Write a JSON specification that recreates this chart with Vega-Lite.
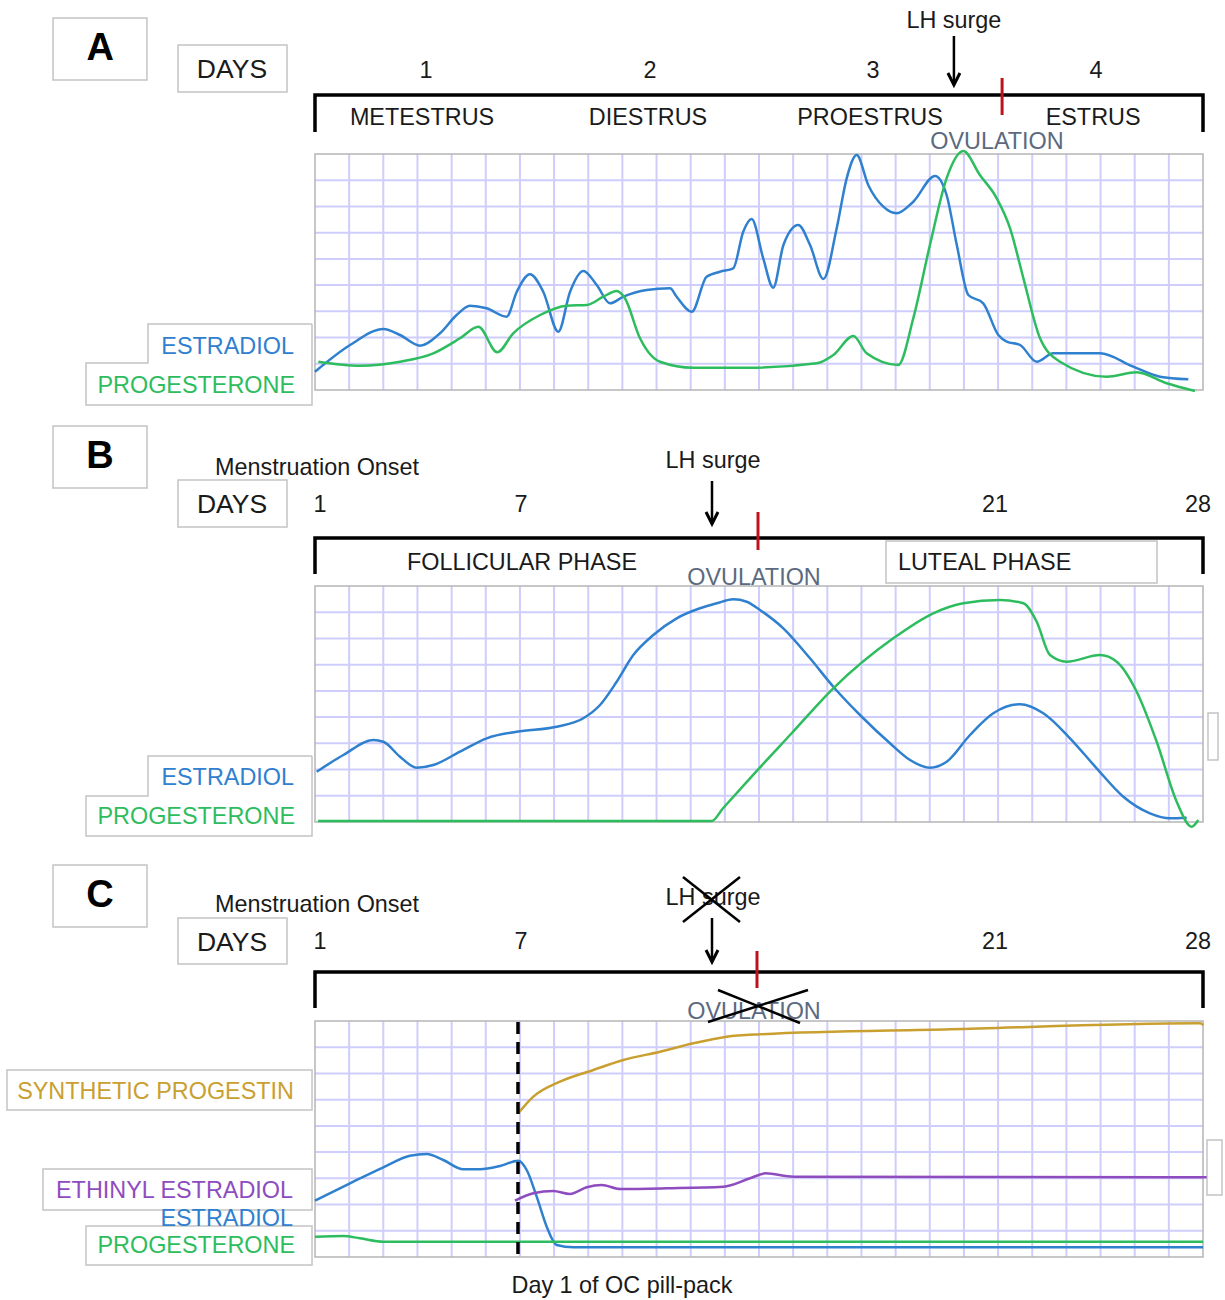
{
  "$schema": "https://vega.github.io/schema/vega-lite/v6.json",
  "padding": 0,
  "spacing": 0,
  "bounds": "flush",
  "background": "white",
  "config": {"view": {"stroke": null}, "text": {"font": "Liberation Sans"}},
  "resolve": {"scale": {"x": "independent", "y": "independent"}},
  "datasets": {
    "A_frame": [{"day": 0.5, "day2": 4.5, "level": 0, "level2": 236}],
    "BC_frame": [{"day": 1, "day2": 28, "level": 0, "level2": 236}],
    "A_hgrid": [{"day": 0.5, "day2": 4.5, "level": 26.22}, {"day": 0.5, "day2": 4.5, "level": 52.44}, {"day": 0.5, "day2": 4.5, "level": 78.67}, {"day": 0.5, "day2": 4.5, "level": 104.89}, {"day": 0.5, "day2": 4.5, "level": 131.11}, {"day": 0.5, "day2": 4.5, "level": 157.33}, {"day": 0.5, "day2": 4.5, "level": 183.56}, {"day": 0.5, "day2": 4.5, "level": 209.78}],
    "BC_hgrid": [{"day": 1, "day2": 28, "level": 26.22}, {"day": 1, "day2": 28, "level": 52.44}, {"day": 1, "day2": 28, "level": 78.67}, {"day": 1, "day2": 28, "level": 104.89}, {"day": 1, "day2": 28, "level": 131.11}, {"day": 1, "day2": 28, "level": 157.33}, {"day": 1, "day2": 28, "level": 183.56}, {"day": 1, "day2": 28, "level": 209.78}],
    "A_vgrid": [{"day": 0.6538, "level": 0, "level2": 236}, {"day": 0.8077, "level": 0, "level2": 236}, {"day": 0.9615, "level": 0, "level2": 236}, {"day": 1.1154, "level": 0, "level2": 236}, {"day": 1.2692, "level": 0, "level2": 236}, {"day": 1.4231, "level": 0, "level2": 236}, {"day": 1.5769, "level": 0, "level2": 236}, {"day": 1.7308, "level": 0, "level2": 236}, {"day": 1.8846, "level": 0, "level2": 236}, {"day": 2.0385, "level": 0, "level2": 236}, {"day": 2.1923, "level": 0, "level2": 236}, {"day": 2.3462, "level": 0, "level2": 236}, {"day": 2.5, "level": 0, "level2": 236}, {"day": 2.6538, "level": 0, "level2": 236}, {"day": 2.8077, "level": 0, "level2": 236}, {"day": 2.9615, "level": 0, "level2": 236}, {"day": 3.1154, "level": 0, "level2": 236}, {"day": 3.2692, "level": 0, "level2": 236}, {"day": 3.4231, "level": 0, "level2": 236}, {"day": 3.5769, "level": 0, "level2": 236}, {"day": 3.7308, "level": 0, "level2": 236}, {"day": 3.8846, "level": 0, "level2": 236}, {"day": 4.0385, "level": 0, "level2": 236}, {"day": 4.1923, "level": 0, "level2": 236}, {"day": 4.3462, "level": 0, "level2": 236}],
    "BC_vgrid": [{"day": 2.0385, "level": 0, "level2": 236}, {"day": 3.0769, "level": 0, "level2": 236}, {"day": 4.1154, "level": 0, "level2": 236}, {"day": 5.1538, "level": 0, "level2": 236}, {"day": 6.1923, "level": 0, "level2": 236}, {"day": 7.2308, "level": 0, "level2": 236}, {"day": 8.2692, "level": 0, "level2": 236}, {"day": 9.3077, "level": 0, "level2": 236}, {"day": 10.3462, "level": 0, "level2": 236}, {"day": 11.3846, "level": 0, "level2": 236}, {"day": 12.4231, "level": 0, "level2": 236}, {"day": 13.4615, "level": 0, "level2": 236}, {"day": 14.5, "level": 0, "level2": 236}, {"day": 15.5385, "level": 0, "level2": 236}, {"day": 16.5769, "level": 0, "level2": 236}, {"day": 17.6154, "level": 0, "level2": 236}, {"day": 18.6538, "level": 0, "level2": 236}, {"day": 19.6923, "level": 0, "level2": 236}, {"day": 20.7308, "level": 0, "level2": 236}, {"day": 21.7692, "level": 0, "level2": 236}, {"day": 22.8077, "level": 0, "level2": 236}, {"day": 23.8462, "level": 0, "level2": 236}, {"day": 24.8846, "level": 0, "level2": 236}, {"day": 25.9231, "level": 0, "level2": 236}, {"day": 26.9615, "level": 0, "level2": 236}],
    "A_curves": [
      {"hormone": "ESTRADIOL", "day": 0.5, "level": 18.3}, {"hormone": "ESTRADIOL", "day": 0.658, "level": 45}, {"hormone": "ESTRADIOL", "day": 0.808, "level": 61}, {"hormone": "ESTRADIOL", "day": 0.883, "level": 55}, {"hormone": "ESTRADIOL", "day": 0.973, "level": 44.3}, {"hormone": "ESTRADIOL", "day": 1.063, "level": 56.7}, {"hormone": "ESTRADIOL", "day": 1.138, "level": 75}, {"hormone": "ESTRADIOL", "day": 1.198, "level": 84.3}, {"hormone": "ESTRADIOL", "day": 1.273, "level": 81.7}, {"hormone": "ESTRADIOL", "day": 1.363, "level": 73.3}, {"hormone": "ESTRADIOL", "day": 1.409, "level": 98.3}, {"hormone": "ESTRADIOL", "day": 1.468, "level": 115.7}, {"hormone": "ESTRADIOL", "day": 1.528, "level": 98.3}, {"hormone": "ESTRADIOL", "day": 1.596, "level": 58.3}, {"hormone": "ESTRADIOL", "day": 1.649, "level": 98.3}, {"hormone": "ESTRADIOL", "day": 1.709, "level": 119}, {"hormone": "ESTRADIOL", "day": 1.769, "level": 105}, {"hormone": "ESTRADIOL", "day": 1.829, "level": 86.7}, {"hormone": "ESTRADIOL", "day": 1.889, "level": 93.3}, {"hormone": "ESTRADIOL", "day": 1.994, "level": 100}, {"hormone": "ESTRADIOL", "day": 2.099, "level": 101.7}, {"hormone": "ESTRADIOL", "day": 2.129, "level": 93.3}, {"hormone": "ESTRADIOL", "day": 2.197, "level": 78.3}, {"hormone": "ESTRADIOL", "day": 2.264, "level": 113.3}, {"hormone": "ESTRADIOL", "day": 2.324, "level": 118.3}, {"hormone": "ESTRADIOL", "day": 2.384, "level": 121.7}, {"hormone": "ESTRADIOL", "day": 2.429, "level": 158.3}, {"hormone": "ESTRADIOL", "day": 2.467, "level": 171}, {"hormone": "ESTRADIOL", "day": 2.519, "level": 131.7}, {"hormone": "ESTRADIOL", "day": 2.564, "level": 102.3}, {"hormone": "ESTRADIOL", "day": 2.61, "level": 145}, {"hormone": "ESTRADIOL", "day": 2.677, "level": 165}, {"hormone": "ESTRADIOL", "day": 2.73, "level": 145}, {"hormone": "ESTRADIOL", "day": 2.79, "level": 111}, {"hormone": "ESTRADIOL", "day": 2.85, "level": 161.7}, {"hormone": "ESTRADIOL", "day": 2.895, "level": 211.7}, {"hormone": "ESTRADIOL", "day": 2.94, "level": 235}, {"hormone": "ESTRADIOL", "day": 2.992, "level": 205}, {"hormone": "ESTRADIOL", "day": 3.06, "level": 183.3}, {"hormone": "ESTRADIOL", "day": 3.12, "level": 176.7}, {"hormone": "ESTRADIOL", "day": 3.195, "level": 188.3}, {"hormone": "ESTRADIOL", "day": 3.293, "level": 214}, {"hormone": "ESTRADIOL", "day": 3.345, "level": 195}, {"hormone": "ESTRADIOL", "day": 3.391, "level": 145}, {"hormone": "ESTRADIOL", "day": 3.443, "level": 95}, {"hormone": "ESTRADIOL", "day": 3.51, "level": 86.7}, {"hormone": "ESTRADIOL", "day": 3.578, "level": 55}, {"hormone": "ESTRADIOL", "day": 3.616, "level": 48.3}, {"hormone": "ESTRADIOL", "day": 3.676, "level": 45}, {"hormone": "ESTRADIOL", "day": 3.751, "level": 28.3}, {"hormone": "ESTRADIOL", "day": 3.826, "level": 36.7}, {"hormone": "ESTRADIOL", "day": 4.036, "level": 36.7}, {"hormone": "ESTRADIOL", "day": 4.186, "level": 23.3}, {"hormone": "ESTRADIOL", "day": 4.306, "level": 13.3}, {"hormone": "ESTRADIOL", "day": 4.434, "level": 10.7},
      {"hormone": "PROGESTERONE", "day": 0.515, "level": 28.3}, {"hormone": "PROGESTERONE", "day": 0.703, "level": 24.3}, {"hormone": "PROGESTERONE", "day": 0.883, "level": 28.3}, {"hormone": "PROGESTERONE", "day": 1.033, "level": 36.7}, {"hormone": "PROGESTERONE", "day": 1.153, "level": 51.7}, {"hormone": "PROGESTERONE", "day": 1.236, "level": 63.3}, {"hormone": "PROGESTERONE", "day": 1.321, "level": 37.7}, {"hormone": "PROGESTERONE", "day": 1.393, "level": 56.7}, {"hormone": "PROGESTERONE", "day": 1.514, "level": 75}, {"hormone": "PROGESTERONE", "day": 1.634, "level": 84.3}, {"hormone": "PROGESTERONE", "day": 1.724, "level": 85}, {"hormone": "PROGESTERONE", "day": 1.799, "level": 93.3}, {"hormone": "PROGESTERONE", "day": 1.859, "level": 99}, {"hormone": "PROGESTERONE", "day": 1.896, "level": 91.7}, {"hormone": "PROGESTERONE", "day": 1.964, "level": 51.7}, {"hormone": "PROGESTERONE", "day": 2.054, "level": 28.3}, {"hormone": "PROGESTERONE", "day": 2.204, "level": 22.3}, {"hormone": "PROGESTERONE", "day": 2.459, "level": 22.3}, {"hormone": "PROGESTERONE", "day": 2.76, "level": 26.7}, {"hormone": "PROGESTERONE", "day": 2.835, "level": 35}, {"hormone": "PROGESTERONE", "day": 2.925, "level": 54}, {"hormone": "PROGESTERONE", "day": 2.985, "level": 36.7}, {"hormone": "PROGESTERONE", "day": 3.127, "level": 25}, {"hormone": "PROGESTERONE", "day": 3.195, "level": 71.7}, {"hormone": "PROGESTERONE", "day": 3.27, "level": 145}, {"hormone": "PROGESTERONE", "day": 3.345, "level": 211.7}, {"hormone": "PROGESTERONE", "day": 3.42, "level": 239}, {"hormone": "PROGESTERONE", "day": 3.495, "level": 215}, {"hormone": "PROGESTERONE", "day": 3.571, "level": 191.7}, {"hormone": "PROGESTERONE", "day": 3.631, "level": 161.7}, {"hormone": "PROGESTERONE", "day": 3.691, "level": 111.7}, {"hormone": "PROGESTERONE", "day": 3.766, "level": 51.7}, {"hormone": "PROGESTERONE", "day": 3.856, "level": 28.3}, {"hormone": "PROGESTERONE", "day": 4.066, "level": 13.3}, {"hormone": "PROGESTERONE", "day": 4.201, "level": 17.7}, {"hormone": "PROGESTERONE", "day": 4.336, "level": 6.7}, {"hormone": "PROGESTERONE", "day": 4.464, "level": -1}
    ],
    "B_curves": [
      {"hormone": "ESTRADIOL", "day": 1.052, "level": 50.3}, {"hormone": "ESTRADIOL", "day": 1.861, "level": 67}, {"hormone": "ESTRADIOL", "day": 2.773, "level": 82}, {"hormone": "ESTRADIOL", "day": 3.077, "level": 80.3}, {"hormone": "ESTRADIOL", "day": 3.584, "level": 65.3}, {"hormone": "ESTRADIOL", "day": 4.092, "level": 54.3}, {"hormone": "ESTRADIOL", "day": 4.597, "level": 57}, {"hormone": "ESTRADIOL", "day": 5.409, "level": 70.3}, {"hormone": "ESTRADIOL", "day": 6.221, "level": 83.7}, {"hormone": "ESTRADIOL", "day": 7.133, "level": 90.3}, {"hormone": "ESTRADIOL", "day": 8.349, "level": 95.3}, {"hormone": "ESTRADIOL", "day": 9.158, "level": 103.7}, {"hormone": "ESTRADIOL", "day": 9.666, "level": 117}, {"hormone": "ESTRADIOL", "day": 10.173, "level": 140.3}, {"hormone": "ESTRADIOL", "day": 10.678, "level": 167}, {"hormone": "ESTRADIOL", "day": 11.286, "level": 187}, {"hormone": "ESTRADIOL", "day": 11.998, "level": 203.7}, {"hormone": "ESTRADIOL", "day": 12.706, "level": 213.7}, {"hormone": "ESTRADIOL", "day": 13.214, "level": 218.7}, {"hormone": "ESTRADIOL", "day": 13.719, "level": 222.7}, {"hormone": "ESTRADIOL", "day": 14.126, "level": 220.3}, {"hormone": "ESTRADIOL", "day": 14.53, "level": 212}, {"hormone": "ESTRADIOL", "day": 15.239, "level": 193.7}, {"hormone": "ESTRADIOL", "day": 16.051, "level": 163.7}, {"hormone": "ESTRADIOL", "day": 16.759, "level": 135.3}, {"hormone": "ESTRADIOL", "day": 17.571, "level": 107}, {"hormone": "ESTRADIOL", "day": 18.483, "level": 78.7}, {"hormone": "ESTRADIOL", "day": 19.091, "level": 62}, {"hormone": "ESTRADIOL", "day": 19.699, "level": 54.3}, {"hormone": "ESTRADIOL", "day": 20.207, "level": 60.3}, {"hormone": "ESTRADIOL", "day": 20.915, "level": 87}, {"hormone": "ESTRADIOL", "day": 21.624, "level": 108.7}, {"hormone": "ESTRADIOL", "day": 22.436, "level": 117.7}, {"hormone": "ESTRADIOL", "day": 23.145, "level": 108.7}, {"hormone": "ESTRADIOL", "day": 23.956, "level": 83.7}, {"hormone": "ESTRADIOL", "day": 24.767, "level": 53.7}, {"hormone": "ESTRADIOL", "day": 25.577, "level": 25.3}, {"hormone": "ESTRADIOL", "day": 26.388, "level": 8.7}, {"hormone": "ESTRADIOL", "day": 26.996, "level": 3.7}, {"hormone": "ESTRADIOL", "day": 27.504, "level": 4.3},
      {"hormone": "PROGESTERONE", "day": 1.091, "level": 1}, {"hormone": "PROGESTERONE", "day": 13.062, "level": 1}, {"hormone": "PROGESTERONE", "day": 13.4, "level": 13.5}, {"hormone": "PROGESTERONE", "day": 14.226, "level": 43.7}, {"hormone": "PROGESTERONE", "day": 15.5, "level": 89}, {"hormone": "PROGESTERONE", "day": 16.759, "level": 133.7}, {"hormone": "PROGESTERONE", "day": 18.583, "level": 183.7}, {"hormone": "PROGESTERONE", "day": 19.8, "level": 208.7}, {"hormone": "PROGESTERONE", "day": 20.712, "level": 218.7}, {"hormone": "PROGESTERONE", "day": 21.828, "level": 222}, {"hormone": "PROGESTERONE", "day": 22.536, "level": 218.7}, {"hormone": "PROGESTERONE", "day": 22.943, "level": 200.3}, {"hormone": "PROGESTERONE", "day": 23.348, "level": 167}, {"hormone": "PROGESTERONE", "day": 23.856, "level": 160.3}, {"hormone": "PROGESTERONE", "day": 24.868, "level": 167}, {"hormone": "PROGESTERONE", "day": 25.376, "level": 160.3}, {"hormone": "PROGESTERONE", "day": 25.984, "level": 130.3}, {"hormone": "PROGESTERONE", "day": 26.592, "level": 80.3}, {"hormone": "PROGESTERONE", "day": 27.2, "level": 20.3}, {"hormone": "PROGESTERONE", "day": 27.656, "level": -4.7}, {"hormone": "PROGESTERONE", "day": 27.857, "level": 2}
    ],
    "C_curves": [
      {"hormone": "ESTRADIOL", "day": 1.0, "level": 56.3}, {"hormone": "ESTRADIOL", "day": 2.064, "level": 73.7}, {"hormone": "ESTRADIOL", "day": 3.077, "level": 89.7}, {"hormone": "ESTRADIOL", "day": 3.889, "level": 101.3}, {"hormone": "ESTRADIOL", "day": 4.396, "level": 103}, {"hormone": "ESTRADIOL", "day": 4.901, "level": 97}, {"hormone": "ESTRADIOL", "day": 5.509, "level": 87.7}, {"hormone": "ESTRADIOL", "day": 6.017, "level": 87.7}, {"hormone": "ESTRADIOL", "day": 6.625, "level": 91}, {"hormone": "ESTRADIOL", "day": 7.182, "level": 96.3}, {"hormone": "ESTRADIOL", "day": 7.437, "level": 87}, {"hormone": "ESTRADIOL", "day": 7.741, "level": 60.3}, {"hormone": "ESTRADIOL", "day": 8.045, "level": 30.3}, {"hormone": "ESTRADIOL", "day": 8.349, "level": 12}, {"hormone": "ESTRADIOL", "day": 8.854, "level": 9.7}, {"hormone": "ESTRADIOL", "day": 14.53, "level": 9.7}, {"hormone": "ESTRADIOL", "day": 28.0, "level": 9.7},
      {"hormone": "PROGESTERONE", "day": 1.0, "level": 20.3}, {"hormone": "PROGESTERONE", "day": 1.861, "level": 21}, {"hormone": "PROGESTERONE", "day": 2.368, "level": 18.7}, {"hormone": "PROGESTERONE", "day": 3.077, "level": 15.3}, {"hormone": "PROGESTERONE", "day": 28.0, "level": 15.3},
      {"hormone": "SYNTHETIC PROGESTIN", "day": 7.182, "level": 143.7}, {"hormone": "SYNTHETIC PROGESTIN", "day": 7.638, "level": 160.3}, {"hormone": "SYNTHETIC PROGESTIN", "day": 8.449, "level": 175.3}, {"hormone": "SYNTHETIC PROGESTIN", "day": 9.462, "level": 187}, {"hormone": "SYNTHETIC PROGESTIN", "day": 10.374, "level": 197}, {"hormone": "SYNTHETIC PROGESTIN", "day": 11.49, "level": 205.3}, {"hormone": "SYNTHETIC PROGESTIN", "day": 12.502, "level": 213.7}, {"hormone": "SYNTHETIC PROGESTIN", "day": 13.518, "level": 220.3}, {"hormone": "SYNTHETIC PROGESTIN", "day": 14.53, "level": 222.7}, {"hormone": "SYNTHETIC PROGESTIN", "day": 20.307, "level": 227.7}, {"hormone": "SYNTHETIC PROGESTIN", "day": 27.909, "level": 233.7}, {"hormone": "SYNTHETIC PROGESTIN", "day": 28.01, "level": 232},
      {"hormone": "ETHINYL ESTRADIOL", "day": 7.081, "level": 56.3}, {"hormone": "ETHINYL ESTRADIOL", "day": 7.638, "level": 63.7}, {"hormone": "ETHINYL ESTRADIOL", "day": 8.246, "level": 66}, {"hormone": "ETHINYL ESTRADIOL", "day": 8.753, "level": 63}, {"hormone": "ETHINYL ESTRADIOL", "day": 9.261, "level": 69.7}, {"hormone": "ETHINYL ESTRADIOL", "day": 9.717, "level": 72}, {"hormone": "ETHINYL ESTRADIOL", "day": 10.274, "level": 68}, {"hormone": "ETHINYL ESTRADIOL", "day": 11.693, "level": 68.7}, {"hormone": "ETHINYL ESTRADIOL", "day": 13.415, "level": 70.3}, {"hormone": "ETHINYL ESTRADIOL", "day": 14.226, "level": 78.7}, {"hormone": "ETHINYL ESTRADIOL", "day": 14.7, "level": 83.7}, {"hormone": "ETHINYL ESTRADIOL", "day": 15.543, "level": 80.3}, {"hormone": "ETHINYL ESTRADIOL", "day": 28.112, "level": 79.7}
    ],
    "A_boxes": [
      {"box": "letter", "day": -0.68, "day2": -0.257, "level": 372, "level2": 310},
      {"box": "days", "day": -0.117, "day2": 0.374, "level": 345, "level2": 298}
    ],
    "B_boxes": [
      {"box": "letter", "day": -6.966, "day2": -4.108, "level": 396, "level2": 334},
      {"box": "days", "day": -3.166, "day2": 0.149, "level": 342, "level2": 295},
      {"box": "luteal", "day": 18.361, "day2": 26.601, "level": 281, "level2": 239},
      {"box": "side", "day": 28.152, "day2": 28.456, "level": 109, "level2": 62}
    ],
    "C_boxes": [
      {"box": "letter", "day": -6.966, "day2": -4.108, "level": 392, "level2": 330},
      {"box": "days", "day": -3.166, "day2": 0.149, "level": 339, "level2": 293},
      {"box": "synthetic", "day": -8.365, "day2": 0.909, "level": 187, "level2": 147},
      {"box": "ethinyl", "day": -7.27, "day2": 0.909, "level": 88, "level2": 47},
      {"box": "progesterone", "day": -5.963, "day2": 0.909, "level": 31, "level2": -8},
      {"box": "side", "day": 28.122, "day2": 28.578, "level": 117, "level2": 62}
    ],
    "A_paths": [
      {"path": "bracket", "ord": 1, "day": 0.5, "level": 258}, {"path": "bracket", "ord": 2, "day": 0.5, "level": 295}, {"path": "bracket", "ord": 3, "day": 4.5, "level": 295}, {"path": "bracket", "ord": 4, "day": 4.5, "level": 258},
      {"path": "legend", "ord": 1, "day": 0.4865, "level": 66}, {"path": "legend", "ord": 2, "day": -0.2523, "level": 66}, {"path": "legend", "ord": 3, "day": -0.2523, "level": 27}, {"path": "legend", "ord": 4, "day": -0.5315, "level": 27}, {"path": "legend", "ord": 5, "day": -0.5315, "level": -15}, {"path": "legend", "ord": 6, "day": 0.4865, "level": -15}, {"path": "legend", "ord": 7, "day": 0.4865, "level": 66}
    ],
    "B_paths": [
      {"path": "bracket", "ord": 1, "day": 1, "level": 248}, {"path": "bracket", "ord": 2, "day": 1, "level": 284}, {"path": "bracket", "ord": 3, "day": 28, "level": 284}, {"path": "bracket", "ord": 4, "day": 28, "level": 248},
      {"path": "legend", "ord": 1, "day": 0.909, "level": 66}, {"path": "legend", "ord": 2, "day": -4.078, "level": 66}, {"path": "legend", "ord": 3, "day": -4.078, "level": 26}, {"path": "legend", "ord": 4, "day": -5.963, "level": 26}, {"path": "legend", "ord": 5, "day": -5.963, "level": -14}, {"path": "legend", "ord": 6, "day": 0.909, "level": -14}, {"path": "legend", "ord": 7, "day": 0.909, "level": 66}
    ],
    "C_paths": [
      {"path": "bracket", "ord": 1, "day": 1, "level": 249}, {"path": "bracket", "ord": 2, "day": 1, "level": 285}, {"path": "bracket", "ord": 3, "day": 28, "level": 285}, {"path": "bracket", "ord": 4, "day": 28, "level": 249},
      {"path": "cross1", "ord": 1, "day": 12.189, "level": 380}, {"path": "cross1", "ord": 2, "day": 13.922, "level": 335},
      {"path": "cross2", "ord": 1, "day": 13.922, "level": 380}, {"path": "cross2", "ord": 2, "day": 12.189, "level": 335},
      {"path": "cross3", "ord": 1, "day": 12.949, "level": 235}, {"path": "cross3", "ord": 2, "day": 15.99, "level": 267},
      {"path": "cross4", "ord": 1, "day": 13.253, "level": 267}, {"path": "cross4", "ord": 2, "day": 15.747, "level": 234}
    ],
    "A_marks": [
      {"kind": "ovtick", "day": 3.595, "level": 312, "level2": 275},
      {"kind": "arrow", "day": 3.378, "level": 354, "level2": 305}
    ],
    "B_marks": [
      {"kind": "ovtick", "day": 14.47, "level": 310, "level2": 272},
      {"kind": "arrow", "day": 13.071, "level": 341, "level2": 298}
    ],
    "C_marks": [
      {"kind": "ovtick", "day": 14.439, "level": 306, "level2": 269},
      {"kind": "arrow", "day": 13.071, "level": 339, "level2": 295},
      {"kind": "dashed", "day": 7.172, "level": 235, "level2": 0}
    ],
    "A_text": [
      {"role": "letter", "text": "A", "day": -0.468, "level": 341},
      {"role": "days", "text": "DAYS", "day": 0.126, "level": 320},
      {"role": "normal", "text": "1", "day": 1.0, "level": 319},
      {"role": "normal", "text": "2", "day": 2.009, "level": 319},
      {"role": "normal", "text": "3", "day": 3.014, "level": 319},
      {"role": "normal", "text": "4", "day": 4.018, "level": 319},
      {"role": "normal", "text": "LH surge", "day": 3.378, "level": 369},
      {"role": "normal", "text": "METESTRUS", "day": 0.982, "level": 272},
      {"role": "normal", "text": "DIESTRUS", "day": 2.0, "level": 272},
      {"role": "normal", "text": "PROESTRUS", "day": 3.0, "level": 272},
      {"role": "normal", "text": "ESTRUS", "day": 4.005, "level": 272},
      {"role": "ovulation", "text": "OVULATION", "day": 3.572, "level": 248},
      {"role": "legend", "text": "ESTRADIOL", "day": 0.405, "level": 43},
      {"role": "legend", "text": "PROGESTERONE", "day": 0.41, "level": 4}
    ],
    "B_text": [
      {"role": "letter", "text": "B", "day": -5.537, "level": 365},
      {"role": "normal", "text": "Menstruation Onset", "day": 1.061, "level": 354},
      {"role": "days", "text": "DAYS", "day": -1.524, "level": 317},
      {"role": "normal", "text": "1", "day": 1.152, "level": 317},
      {"role": "normal", "text": "7", "day": 7.263, "level": 317},
      {"role": "normal", "text": "21", "day": 21.675, "level": 317},
      {"role": "normal", "text": "28", "day": 27.848, "level": 317},
      {"role": "normal", "text": "LH surge", "day": 13.101, "level": 361},
      {"role": "normal", "text": "FOLLICULAR PHASE", "day": 7.294, "level": 259},
      {"role": "normal", "text": "LUTEAL PHASE", "day": 21.36, "level": 259},
      {"role": "ovulation", "text": "OVULATION", "day": 14.348, "level": 244},
      {"role": "legend", "text": "ESTRADIOL", "day": 0.361, "level": 44},
      {"role": "legend", "text": "PROGESTERONE", "day": 0.392, "level": 5}
    ],
    "C_text": [
      {"role": "letter", "text": "C", "day": -5.537, "level": 361},
      {"role": "normal", "text": "Menstruation Onset", "day": 1.061, "level": 352},
      {"role": "days", "text": "DAYS", "day": -1.524, "level": 314},
      {"role": "normal", "text": "1", "day": 1.152, "level": 315},
      {"role": "normal", "text": "7", "day": 7.263, "level": 315},
      {"role": "normal", "text": "21", "day": 21.675, "level": 315},
      {"role": "normal", "text": "28", "day": 27.848, "level": 315},
      {"role": "normal", "text": "LH surge", "day": 13.101, "level": 359},
      {"role": "ovulation", "text": "OVULATION", "day": 14.348, "level": 245},
      {"role": "legend", "text": "SYNTHETIC PROGESTIN", "day": 0.361, "level": 165},
      {"role": "legend", "text": "ETHINYL ESTRADIOL", "day": 0.331, "level": 66},
      {"role": "legend", "text": "ESTRADIOL", "day": 0.331, "level": 38},
      {"role": "legend", "text": "PROGESTERONE", "day": 0.392, "level": 11},
      {"role": "normal", "text": "Day 1 of OC pill-pack", "day": 10.334, "level": -29}
    ]
  },
  "vconcat": [
    {
      "width": 1225, "height": 423,
      "encoding": {
        "x": {"field": "day", "type": "quantitative", "scale": {"domain": [-0.9189, 4.5991], "nice": false, "zero": false}, "axis": null},
        "y": {"field": "level", "type": "quantitative", "scale": {"domain": [-33, 390], "nice": false, "zero": false}, "axis": null}
      },
      "layer": [
        {"data": {"name": "A_boxes"}, "mark": {"type": "rect", "fill": "white", "stroke": "#c4c4c4", "strokeWidth": 1.5}, "encoding": {"x2": {"field": "day2"}, "y2": {"field": "level2"}}},
        {"data": {"name": "A_frame"}, "mark": {"type": "rect", "fill": "white"}, "encoding": {"x2": {"field": "day2"}, "y2": {"field": "level2"}}},
        {"data": {"name": "A_vgrid"}, "mark": {"type": "rule", "stroke": "#cfcdfb", "strokeWidth": 2}, "encoding": {"y2": {"field": "level2"}}},
        {"data": {"name": "A_hgrid"}, "mark": {"type": "rule", "stroke": "#cfcdfb", "strokeWidth": 2}, "encoding": {"x2": {"field": "day2"}}},
        {"data": {"name": "A_frame"}, "mark": {"type": "rect", "filled": false, "stroke": "#b5b5b5", "strokeWidth": 1.5}, "encoding": {"x2": {"field": "day2"}, "y2": {"field": "level2"}}},
        {"data": {"name": "A_curves"}, "mark": {"type": "line", "strokeWidth": 2.5, "interpolate": "monotone"}, "encoding": {"color": {"field": "hormone", "type": "nominal", "scale": {"domain": ["ESTRADIOL", "PROGESTERONE", "SYNTHETIC PROGESTIN", "ETHINYL ESTRADIOL"], "range": ["#2f80cf", "#2dbd5e", "#c9a030", "#8e4cbf"]}, "legend": null}}},
        {"data": {"name": "A_paths"}, "transform": [{"filter": "datum.path === 'bracket'"}], "mark": {"type": "line", "stroke": "black", "strokeWidth": 3.5, "strokeJoin": "miter"}, "encoding": {"order": {"field": "ord"}, "detail": {"field": "path"}}},
        {"data": {"name": "A_paths"}, "transform": [{"filter": "datum.path === 'legend'"}], "mark": {"type": "line", "stroke": "#c4c4c4", "strokeWidth": 1.5}, "encoding": {"order": {"field": "ord"}, "detail": {"field": "path"}}},
        {"data": {"name": "A_marks"}, "transform": [{"filter": "datum.kind === 'ovtick'"}], "mark": {"type": "rule", "stroke": "#c0121c", "strokeWidth": 3}, "encoding": {"y2": {"field": "level2"}}},
        {"data": {"name": "A_marks"}, "transform": [{"filter": "datum.kind === 'arrow'"}], "mark": {"type": "rule", "stroke": "black", "strokeWidth": 2.5}, "encoding": {"y2": {"field": "level2"}}},
        {"data": {"name": "A_marks"}, "transform": [{"filter": "datum.kind === 'arrow'"}], "mark": {"type": "point", "shape": "M-0.6,-1.2L0,0L0.6,-1.2", "size": 400, "filled": false, "stroke": "black", "strokeWidth": 3, "opacity": 1, "strokeJoin": "miter"}, "encoding": {"y": {"field": "level2"}}},
        {"data": {"name": "A_text"}, "transform": [{"filter": "datum.role === 'letter'"}], "mark": {"type": "text", "fontSize": 38, "fontWeight": "bold", "fill": "black"}, "encoding": {"text": {"field": "text"}}},
        {"data": {"name": "A_text"}, "transform": [{"filter": "datum.role === 'days'"}], "mark": {"type": "text", "fontSize": 26.5, "fill": "#1a1a1a"}, "encoding": {"text": {"field": "text"}}},
        {"data": {"name": "A_text"}, "transform": [{"filter": "datum.role === 'normal'"}], "mark": {"type": "text", "fontSize": 23.4, "fill": "#1a1a1a"}, "encoding": {"text": {"field": "text"}}},
        {"data": {"name": "A_text"}, "transform": [{"filter": "datum.role === 'ovulation'"}], "mark": {"type": "text", "fontSize": 23.4, "fill": "#5b6a80"}, "encoding": {"text": {"field": "text"}}},
        {"data": {"name": "A_text"}, "transform": [{"filter": "datum.role === 'legend'"}], "mark": {"type": "text", "fontSize": 23.4, "align": "right"}, "encoding": {"text": {"field": "text"}, "color": {"field": "text", "type": "nominal", "scale": {"domain": ["ESTRADIOL", "PROGESTERONE", "SYNTHETIC PROGESTIN", "ETHINYL ESTRADIOL"], "range": ["#2f80cf", "#2dbd5e", "#c9a030", "#8e4cbf"]}, "legend": null}}}
      ]
    },
    {
      "width": 1225, "height": 437,
      "encoding": {
        "x": {"field": "day", "type": "quantitative", "scale": {"domain": [-8.5777, 28.669], "nice": false, "zero": false}, "axis": null},
        "y": {"field": "level", "type": "quantitative", "scale": {"domain": [-38, 399], "nice": false, "zero": false}, "axis": null}
      },
      "layer": [
        {"data": {"name": "B_boxes"}, "mark": {"type": "rect", "fill": "white", "stroke": "#c4c4c4", "strokeWidth": 1.5}, "encoding": {"x2": {"field": "day2"}, "y2": {"field": "level2"}}},
        {"data": {"name": "BC_frame"}, "mark": {"type": "rect", "fill": "white"}, "encoding": {"x2": {"field": "day2"}, "y2": {"field": "level2"}}},
        {"data": {"name": "BC_vgrid"}, "mark": {"type": "rule", "stroke": "#cfcdfb", "strokeWidth": 2}, "encoding": {"y2": {"field": "level2"}}},
        {"data": {"name": "BC_hgrid"}, "mark": {"type": "rule", "stroke": "#cfcdfb", "strokeWidth": 2}, "encoding": {"x2": {"field": "day2"}}},
        {"data": {"name": "BC_frame"}, "mark": {"type": "rect", "filled": false, "stroke": "#b5b5b5", "strokeWidth": 1.5}, "encoding": {"x2": {"field": "day2"}, "y2": {"field": "level2"}}},
        {"data": {"name": "B_curves"}, "mark": {"type": "line", "strokeWidth": 2.5, "interpolate": "monotone"}, "encoding": {"color": {"field": "hormone", "type": "nominal", "scale": {"domain": ["ESTRADIOL", "PROGESTERONE", "SYNTHETIC PROGESTIN", "ETHINYL ESTRADIOL"], "range": ["#2f80cf", "#2dbd5e", "#c9a030", "#8e4cbf"]}, "legend": null}}},
        {"data": {"name": "B_paths"}, "transform": [{"filter": "datum.path === 'bracket'"}], "mark": {"type": "line", "stroke": "black", "strokeWidth": 3.5, "strokeJoin": "miter"}, "encoding": {"order": {"field": "ord"}, "detail": {"field": "path"}}},
        {"data": {"name": "B_paths"}, "transform": [{"filter": "datum.path === 'legend'"}], "mark": {"type": "line", "stroke": "#c4c4c4", "strokeWidth": 1.5}, "encoding": {"order": {"field": "ord"}, "detail": {"field": "path"}}},
        {"data": {"name": "B_marks"}, "transform": [{"filter": "datum.kind === 'ovtick'"}], "mark": {"type": "rule", "stroke": "#c0121c", "strokeWidth": 3}, "encoding": {"y2": {"field": "level2"}}},
        {"data": {"name": "B_marks"}, "transform": [{"filter": "datum.kind === 'arrow'"}], "mark": {"type": "rule", "stroke": "black", "strokeWidth": 2.5}, "encoding": {"y2": {"field": "level2"}}},
        {"data": {"name": "B_marks"}, "transform": [{"filter": "datum.kind === 'arrow'"}], "mark": {"type": "point", "shape": "M-0.6,-1.2L0,0L0.6,-1.2", "size": 400, "filled": false, "stroke": "black", "strokeWidth": 3, "opacity": 1, "strokeJoin": "miter"}, "encoding": {"y": {"field": "level2"}}},
        {"data": {"name": "B_text"}, "transform": [{"filter": "datum.role === 'letter'"}], "mark": {"type": "text", "fontSize": 38, "fontWeight": "bold", "fill": "black"}, "encoding": {"text": {"field": "text"}}},
        {"data": {"name": "B_text"}, "transform": [{"filter": "datum.role === 'days'"}], "mark": {"type": "text", "fontSize": 26.5, "fill": "#1a1a1a"}, "encoding": {"text": {"field": "text"}}},
        {"data": {"name": "B_text"}, "transform": [{"filter": "datum.role === 'normal'"}], "mark": {"type": "text", "fontSize": 23.4, "fill": "#1a1a1a"}, "encoding": {"text": {"field": "text"}}},
        {"data": {"name": "B_text"}, "transform": [{"filter": "datum.role === 'ovulation'"}], "mark": {"type": "text", "fontSize": 23.4, "fill": "#5b6a80"}, "encoding": {"text": {"field": "text"}}},
        {"data": {"name": "B_text"}, "transform": [{"filter": "datum.role === 'legend'"}], "mark": {"type": "text", "fontSize": 23.4, "align": "right"}, "encoding": {"text": {"field": "text"}, "color": {"field": "text", "type": "nominal", "scale": {"domain": ["ESTRADIOL", "PROGESTERONE", "SYNTHETIC PROGESTIN", "ETHINYL ESTRADIOL"], "range": ["#2f80cf", "#2dbd5e", "#c9a030", "#8e4cbf"]}, "legend": null}}}
      ]
    },
    {
      "width": 1225, "height": 440,
      "encoding": {
        "x": {"field": "day", "type": "quantitative", "scale": {"domain": [-8.5777, 28.669], "nice": false, "zero": false}, "axis": null},
        "y": {"field": "level", "type": "quantitative", "scale": {"domain": [-43, 397], "nice": false, "zero": false}, "axis": null}
      },
      "layer": [
        {"data": {"name": "C_boxes"}, "mark": {"type": "rect", "fill": "white", "stroke": "#c4c4c4", "strokeWidth": 1.5}, "encoding": {"x2": {"field": "day2"}, "y2": {"field": "level2"}}},
        {"data": {"name": "BC_frame"}, "mark": {"type": "rect", "fill": "white"}, "encoding": {"x2": {"field": "day2"}, "y2": {"field": "level2"}}},
        {"data": {"name": "BC_vgrid"}, "mark": {"type": "rule", "stroke": "#cfcdfb", "strokeWidth": 2}, "encoding": {"y2": {"field": "level2"}}},
        {"data": {"name": "BC_hgrid"}, "mark": {"type": "rule", "stroke": "#cfcdfb", "strokeWidth": 2}, "encoding": {"x2": {"field": "day2"}}},
        {"data": {"name": "BC_frame"}, "mark": {"type": "rect", "filled": false, "stroke": "#b5b5b5", "strokeWidth": 1.5}, "encoding": {"x2": {"field": "day2"}, "y2": {"field": "level2"}}},
        {"data": {"name": "C_curves"}, "mark": {"type": "line", "strokeWidth": 2.5, "interpolate": "monotone"}, "encoding": {"color": {"field": "hormone", "type": "nominal", "scale": {"domain": ["ESTRADIOL", "PROGESTERONE", "SYNTHETIC PROGESTIN", "ETHINYL ESTRADIOL"], "range": ["#2f80cf", "#2dbd5e", "#c9a030", "#8e4cbf"]}, "legend": null}}},
        {"data": {"name": "C_marks"}, "transform": [{"filter": "datum.kind === 'dashed'"}], "mark": {"type": "rule", "stroke": "black", "strokeWidth": 3.5, "strokeDash": [12, 8]}, "encoding": {"y2": {"field": "level2"}}},
        {"data": {"name": "C_paths"}, "transform": [{"filter": "datum.path === 'bracket'"}], "mark": {"type": "line", "stroke": "black", "strokeWidth": 3.5, "strokeJoin": "miter"}, "encoding": {"order": {"field": "ord"}, "detail": {"field": "path"}}},
        {"data": {"name": "C_marks"}, "transform": [{"filter": "datum.kind === 'ovtick'"}], "mark": {"type": "rule", "stroke": "#c0121c", "strokeWidth": 3}, "encoding": {"y2": {"field": "level2"}}},
        {"data": {"name": "C_marks"}, "transform": [{"filter": "datum.kind === 'arrow'"}], "mark": {"type": "rule", "stroke": "black", "strokeWidth": 2.5}, "encoding": {"y2": {"field": "level2"}}},
        {"data": {"name": "C_marks"}, "transform": [{"filter": "datum.kind === 'arrow'"}], "mark": {"type": "point", "shape": "M-0.6,-1.2L0,0L0.6,-1.2", "size": 400, "filled": false, "stroke": "black", "strokeWidth": 3, "opacity": 1, "strokeJoin": "miter"}, "encoding": {"y": {"field": "level2"}}},
        {"data": {"name": "C_text"}, "transform": [{"filter": "datum.role === 'letter'"}], "mark": {"type": "text", "fontSize": 38, "fontWeight": "bold", "fill": "black"}, "encoding": {"text": {"field": "text"}}},
        {"data": {"name": "C_text"}, "transform": [{"filter": "datum.role === 'days'"}], "mark": {"type": "text", "fontSize": 26.5, "fill": "#1a1a1a"}, "encoding": {"text": {"field": "text"}}},
        {"data": {"name": "C_text"}, "transform": [{"filter": "datum.role === 'normal'"}], "mark": {"type": "text", "fontSize": 23.4, "fill": "#1a1a1a"}, "encoding": {"text": {"field": "text"}}},
        {"data": {"name": "C_text"}, "transform": [{"filter": "datum.role === 'ovulation'"}], "mark": {"type": "text", "fontSize": 23.4, "fill": "#5b6a80"}, "encoding": {"text": {"field": "text"}}},
        {"data": {"name": "C_text"}, "transform": [{"filter": "datum.role === 'legend'"}], "mark": {"type": "text", "fontSize": 23.4, "align": "right"}, "encoding": {"text": {"field": "text"}, "color": {"field": "text", "type": "nominal", "scale": {"domain": ["ESTRADIOL", "PROGESTERONE", "SYNTHETIC PROGESTIN", "ETHINYL ESTRADIOL"], "range": ["#2f80cf", "#2dbd5e", "#c9a030", "#8e4cbf"]}, "legend": null}}},
        {"data": {"name": "C_paths"}, "transform": [{"filter": "datum.path !== 'bracket'"}], "mark": {"type": "line", "stroke": "black", "strokeWidth": 2.5}, "encoding": {"order": {"field": "ord"}, "detail": {"field": "path"}}}
      ]
    }
  ]
}
